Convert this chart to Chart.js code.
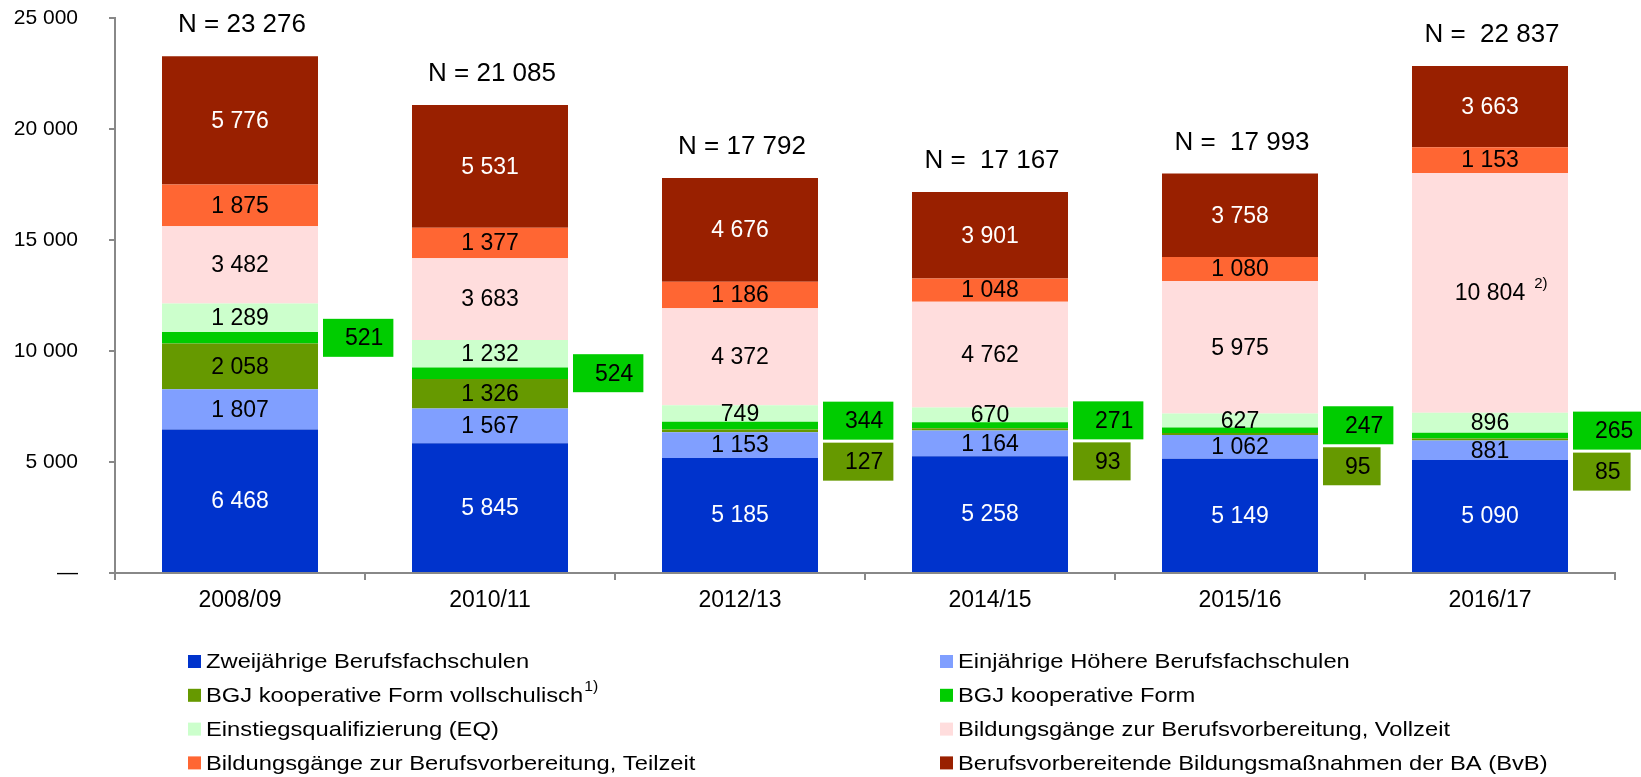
<!DOCTYPE html>
<html>
<head>
<meta charset="utf-8">
<script src="https://cdn.jsdelivr.net/npm/chart.js@4.4.1/dist/chart.umd.min.js"></script>
<style>
  html, body { margin: 0; padding: 0; background: #ffffff; }
  #wrap { width: 1641px; height: 777px; }
</style>
</head>
<body>
<div id="wrap"><canvas id="c" width="1641" height="777"></canvas></div>
<script>
// ---- data ----
const categories = ['2008/09', '2010/11', '2012/13', '2014/15', '2015/16', '2016/17'];
const zweijaehrigeBFS = [6468, 5845, 5185, 5258, 5149, 5090];
const einjaehrigeHBFS = [1807, 1567, 1153, 1164, 1062, 881];
const bgjVollschulisch = [2058, 1326, 127, 93, 95, 85];
const bgjKooperativ = [521, 524, 344, 271, 247, 265];
const einstiegsqualifizierung = [1289, 1232, 749, 670, 627, 896];
const bvVollzeit = [3482, 3683, 4372, 4762, 5975, 10804];
const bvTeilzeit = [1875, 1377, 1186, 1048, 1080, 1153];
const bvbBA = [5776, 5531, 4676, 3901, 3758, 3663];
const nLabels = ['N = 23 276', 'N = 21 085', 'N = 17 792', 'N =  17 167', 'N =  17 993', 'N =  22 837'];
const bvVollzeitNotes = ['', '', '', '', '', '2)'];

const seriesNames = [
  'Zweijährige Berufsfachschulen',
  'Einjährige Höhere Berufsfachschulen',
  'BGJ kooperative Form vollschulisch',
  'BGJ kooperative Form',
  'Einstiegsqualifizierung (EQ)',
  'Bildungsgänge zur Berufsvorbereitung, Vollzeit',
  'Bildungsgänge zur Berufsvorbereitung, Teilzeit',
  'Berufsvorbereitende Bildungsmaßnahmen der BA (BvB)'
];
const seriesNotes = ['', '', '1)', '', '', '', '', ''];
const seriesValues = [zweijaehrigeBFS, einjaehrigeHBFS, bgjVollschulisch, bgjKooperativ,
  einstiegsqualifizierung, bvVollzeit, bvTeilzeit, bvbBA];
const seriesColors = ['#0033CC', '#809FFF', '#669900', '#00CC00', '#CCFFCC', '#FFDDDD', '#FF6633', '#992000'];
const labelColors = ['#ffffff', '#000000', '#000000', '#000000', '#000000', '#000000', '#000000', '#ffffff'];

const FONT = '"Liberation Sans", Arial, Helvetica, sans-serif';
function fmt(v) { return String(v).replace(/\B(?=(\d{3})+(?!\d))/g, ' '); }

const datasets = seriesNames.map((name, k) => ({
  label: name,
  data: seriesValues[k],
  backgroundColor: seriesColors[k],
  borderWidth: 0,
  labelColor: labelColors[k]
}));

const OLIVE = 2, GREEN = 3, PINK = 5;
const SMALL = 300; // values below this are shown in a side box

const labelPlugin = {
  id: 'valueLabels',
  afterDatasetsDraw(chart) {
    const ctx = chart.ctx;
    ctx.save();
    ctx.textBaseline = 'middle';
    chart.data.datasets.forEach((ds, di) => {
      const meta = chart.getDatasetMeta(di);
      meta.data.forEach((el, i) => {
        const v = ds.data[i];
        if (di === GREEN) return;
        if (di === OLIVE && v < SMALL) return;
        const y = (el.y + el.base) / 2 + 1;
        ctx.font = '23px ' + FONT;
        ctx.textAlign = 'center';
        ctx.fillStyle = ds.labelColor;
        const t = fmt(v);
        ctx.fillText(t, el.x, y);
        if (di === PINK && bvVollzeitNotes[i]) {
          const w = ctx.measureText(t).width;
          ctx.font = '15px ' + FONT;
          ctx.textAlign = 'left';
          ctx.fillText(bvVollzeitNotes[i], el.x + w / 2 + 9, y - 10);
        }
      });
    });
    const gMeta = chart.getDatasetMeta(GREEN);
    const gData = chart.data.datasets[GREEN].data;
    const oData = chart.data.datasets[OLIVE].data;
    const boxH = 38;
    ctx.font = '23px ' + FONT;
    gMeta.data.forEach((el, i) => {
      const right = el.x + el.width / 2;
      const mid = (el.y + el.base) / 2;
      const oliveSmall = oData[i] < SMALL;
      const gc = oliveSmall ? mid - 5 : mid;
      const drawBox = (val, color, top) => {
        const t = fmt(val);
        const tw = ctx.measureText(t).width;
        const w = tw + 32;
        const x0 = right + 5;
        ctx.fillStyle = color;
        ctx.fillRect(x0, top, w, boxH);
        ctx.fillStyle = '#000000';
        ctx.textAlign = 'right';
        ctx.fillText(t, x0 + w - 10, top + boxH / 2 + 1);
      };
      drawBox(gData[i], seriesColors[GREEN], gc - boxH / 2);
      if (oliveSmall) {
        drawBox(oData[i], seriesColors[OLIVE], gc + boxH / 2 + 3);
      }
    });
    const topMeta = chart.getDatasetMeta(chart.data.datasets.length - 1);
    ctx.font = '26px ' + FONT;
    ctx.textAlign = 'center';
    ctx.fillStyle = '#000000';
    topMeta.data.forEach((el, i) => {
      ctx.fillText(nLabels[i], el.x + 2, el.y - 31);
    });
    ctx.restore();
  }
};

const legendPlugin = {
  id: 'twoColLegend',
  afterDraw(chart) {
    const ctx = chart.ctx;
    ctx.save();
    const colBoxX = [188, 940];
    const rowY0 = 661.5, rowStep = 33.8;
    const sx = 1.13;
    ctx.textBaseline = 'middle';
    chart.data.datasets.forEach((ds, k) => {
      const col = k % 2, row = Math.floor(k / 2);
      const cy = rowY0 + row * rowStep;
      const bx = colBoxX[col];
      ctx.fillStyle = ds.backgroundColor;
      ctx.fillRect(bx, cy - 6.5, 13, 13);
      ctx.fillStyle = '#000000';
      ctx.font = '21px ' + FONT;
      ctx.textAlign = 'left';
      const tx = bx + 18;
      ctx.save();
      ctx.translate(tx, cy + 1);
      ctx.scale(sx, 1);
      ctx.fillText(ds.label, 0, 0);
      const w = ctx.measureText(ds.label).width;
      if (seriesNotes[k]) {
        ctx.font = '14px ' + FONT;
        ctx.fillText(seriesNotes[k], w + 1, -9);
      }
      ctx.restore();
    });
    ctx.restore();
  }
};

new Chart(document.getElementById('c'), {
  type: 'bar',
  data: { labels: categories, datasets: datasets },
  options: {
    responsive: false,
    devicePixelRatio: 1,
    animation: false,
    layout: { padding: { top: 18, right: 26, left: 0, bottom: 0 } },
    plugins: {
      legend: { display: false },
      tooltip: { enabled: false }
    },
    datasets: { bar: { categoryPercentage: 1.0, barPercentage: 0.624 } },
    scales: {
      x: {
        stacked: true,
        grid: { display: true, drawOnChartArea: false, drawTicks: true, tickLength: 7, color: '#888888', lineWidth: 2, offset: true },
        border: { display: true, color: '#888888', width: 2 },
        ticks: { color: '#000000', font: { family: FONT, size: 23 }, padding: 7, maxRotation: 0 },
        afterFit(scale) { scale.height = 204; scale.paddingLeft = 0; scale.paddingRight = 0; }
      },
      y: {
        stacked: true,
        min: 0, max: 25000,
        grid: { display: true, drawOnChartArea: false, drawTicks: true, tickLength: 6, color: '#888888', lineWidth: 2 },
        border: { display: true, color: '#888888', width: 2 },
        ticks: {
          stepSize: 5000, color: '#000000', padding: 31,
          font: { family: FONT, size: 21 },
          callback: (v) => v === 0 ? '—' : fmt(v)
        },
        afterFit(scale) { scale.width = 115; scale.paddingTop = 0; scale.paddingBottom = 0; }
      }
    }
  },
  plugins: [labelPlugin, legendPlugin]
});
</script>
</body>
</html>
